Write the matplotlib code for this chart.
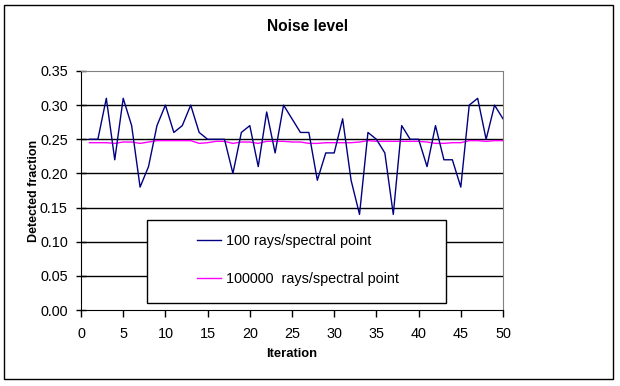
import matplotlib
matplotlib.use("Agg")
import matplotlib.pyplot as plt
from matplotlib.patches import Rectangle
from matplotlib.ticker import FormatStrFormatter

plt.rcParams['font.family'] = ['Liberation Sans', 'DejaVu Sans']

# データ
iterations = list(range(1, 51))
rays_100 = [0.25, 0.25, 0.31, 0.22, 0.31, 0.27, 0.18, 0.21, 0.27, 0.30,
            0.26, 0.27, 0.30, 0.26, 0.25, 0.25, 0.25, 0.20, 0.26, 0.27,
            0.21, 0.29, 0.23, 0.30, 0.28, 0.26, 0.26, 0.19, 0.23, 0.23,
            0.28, 0.19, 0.14, 0.26, 0.25, 0.23, 0.14, 0.27, 0.25, 0.25,
            0.21, 0.27, 0.22, 0.22, 0.18, 0.30, 0.31, 0.25, 0.30, 0.28]
rays_100000 = [0.245, 0.245, 0.245, 0.244, 0.246, 0.246, 0.244, 0.246, 0.248, 0.248,
               0.248, 0.248, 0.248, 0.244, 0.245, 0.247, 0.247, 0.244, 0.246, 0.246,
               0.244, 0.247, 0.247, 0.247, 0.246, 0.246, 0.244, 0.244, 0.245, 0.245,
               0.245, 0.245, 0.246, 0.248, 0.247, 0.247, 0.247, 0.247, 0.247, 0.247,
               0.246, 0.244, 0.244, 0.245, 0.245, 0.248, 0.248, 0.247, 0.248, 0.248]
x_ticks = list(range(0, 51, 5))
y_ticks = [0.00, 0.05, 0.10, 0.15, 0.20, 0.25, 0.30, 0.35]

W, H = 620, 386
fig = plt.figure(figsize=(W / 100, H / 100), dpi=100)

# 外枠
fig.patches.append(Rectangle((4 / W, 1 - 379 / H), 609 / W, 374 / H,
                             transform=fig.transFigure, fill=False,
                             edgecolor='black', linewidth=1.0))

ax = fig.add_axes([81 / W, 1 - 310 / H, 422 / W, 239 / H])
ax.set_xlim(0, 50)
ax.set_ylim(0, 0.35)

# グリッド線
for yv in y_ticks[1:-1]:
    ax.axhline(yv, color='black', linewidth=1.0, zorder=1)

ax.plot(iterations, rays_100, color='#000080', linewidth=1.0, zorder=4,
        label='100 rays/spectral point')
ax.plot(iterations, rays_100000, color='#FF00FF', linewidth=1.0, zorder=3,
        label='100000  rays/spectral point')

ax.set_xticks(x_ticks)
ax.set_yticks(y_ticks)
ax.yaxis.set_major_formatter(FormatStrFormatter('%.2f'))
ax.tick_params(axis='y', direction='inout', length=7, width=1, labelsize=10.4, pad=6)
ax.tick_params(axis='x', direction='out', length=5, width=1, labelsize=10.4, pad=7)

for side in ['top', 'right']:
    ax.spines[side].set_color('#808080')
for side in ['left', 'bottom']:
    ax.spines[side].set_color('black')

ax.set_xlabel('Iteration', fontsize=9.4, fontweight='bold', labelpad=5)
ax.set_ylabel('Detected fraction', fontsize=9, fontweight='bold', labelpad=0)
fig.text(308 / W, 1 - 26.5 / H, 'Noise level', fontsize=11.2, fontweight='bold',
         ha='center', va='center')

# 凡例の枠
ax.add_patch(Rectangle(((147 - 81) / 422, (310 - 303) / 239), 299 / 422, 83 / 239,
                       transform=ax.transAxes, facecolor='white',
                       edgecolor='black', linewidth=1.0, zorder=2))
leg = ax.legend(loc='center left', bbox_to_anchor=((197 - 81) / 422, (310 - 260.3) / 239),
                frameon=False, fontsize=10.4, handlelength=1.67, handletextpad=0.35,
                labelspacing=1.67, borderpad=0, borderaxespad=0)
leg.set_zorder(5)

fig.savefig('out.png', dpi=100)
